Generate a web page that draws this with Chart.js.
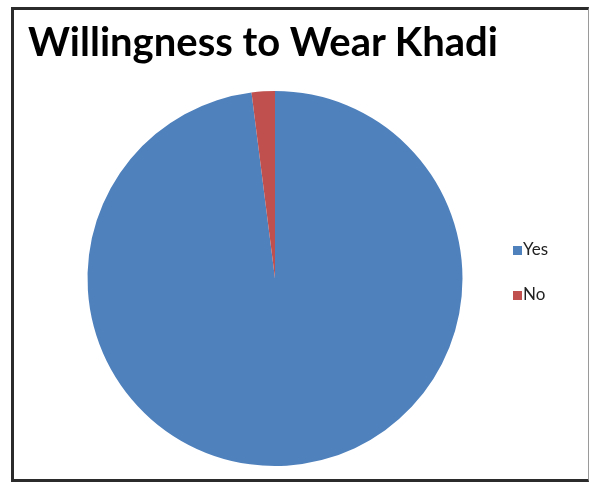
<!DOCTYPE html>
<html>
<head>
<meta charset="utf-8">
<script src="https://cdn.jsdelivr.net/npm/chart.js@4.4.0/dist/chart.umd.min.js"></script>
<style>
  body { margin: 0; background: #fff; }
  #wrap { position: relative; width: 589px; height: 487px; overflow: hidden; background: #fff; }
  #pie { position: absolute; left: 0; top: 0; }
  #frame {
    position: absolute; left: 11px; top: 7px; width: 578px; height: 475px;
    box-sizing: border-box;
    border-left: 3px solid #2b2b2b; border-top: 3px solid #2b2b2b;
    border-bottom: 3px solid #2b2b2b; border-right: 1px solid #9a9a9a;
    pointer-events: none;
  }
  #title {
    position: absolute; left: 28px; top: 17px;
    font-family: Lato, "Open Sans", sans-serif; font-weight: bold; font-size: 40px;
    line-height: 48px; color: #000; white-space: nowrap;
  }
  #legend { position: absolute; left: 513px; top: 239px; font-family: Lato, "Open Sans", sans-serif; font-size: 17px; color: #222; }
  .item { height: 20px; line-height: 20px; margin-bottom: 25px; white-space: nowrap; }
  .box { display: inline-block; width: 9px; height: 9px; margin-right: 1px; vertical-align: 0px; }
</style>
</head>
<body>
<div id="wrap">
  <canvas id="pie" width="589" height="487"></canvas>
  <div id="frame"></div>
  <div id="title">Willingness to Wear Khadi</div>
  <div id="legend"></div>
</div>
<script>
const labels = ['Yes', 'No'];
const shares = [98, 2];
const colors = ['#4F81BD', '#C0504D'];

const legend = document.querySelector('#legend');
labels.forEach((label, i) => {
  const item = document.createElement('div');
  item.className = 'item';
  item.innerHTML = '<span class="box" style="background:' + colors[i] + '"></span>' + label;
  legend.appendChild(item);
});

const pie = new Chart(document.querySelector('#pie'), {
  type: 'pie',
  data: {
    labels: labels,
    datasets: [{
      data: shares,
      backgroundColor: colors,
      borderWidth: 0
    }]
  },
  options: {
    responsive: false,
    animation: false,
    layout: { padding: { left: 87, right: 126, top: 91, bottom: 21 } },
    plugins: {
      legend: { display: false },
      title: { display: false },
      tooltip: { enabled: false }
    }
  }
});
</script>
</body>
</html>
